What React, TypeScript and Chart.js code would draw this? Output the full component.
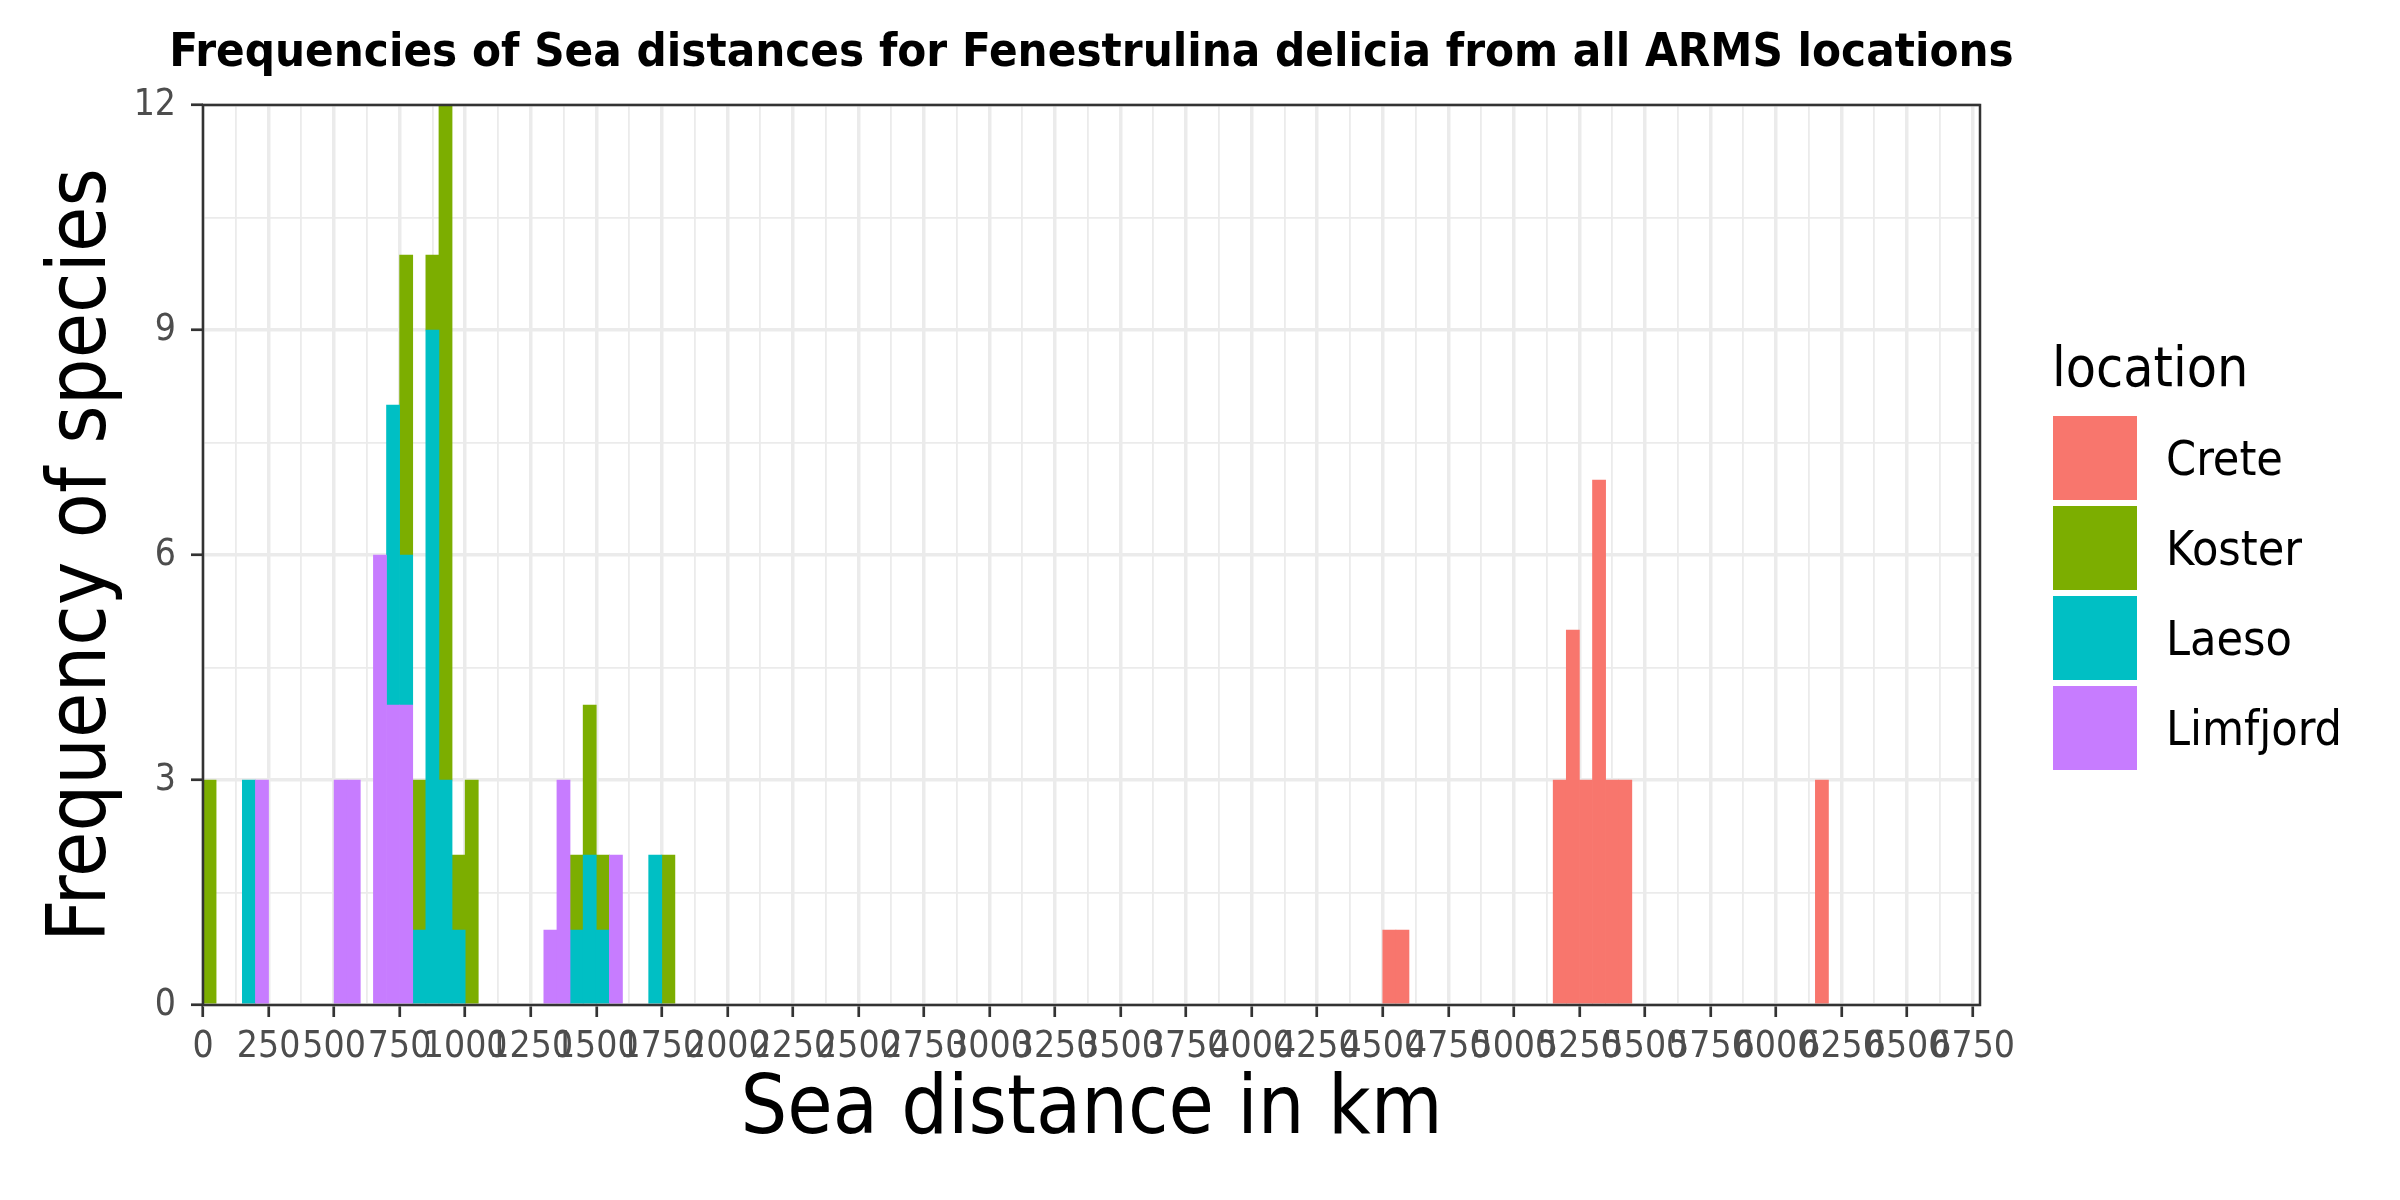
import React, { useEffect, useRef } from 'react';
import { Chart, registerables } from 'chart.js';

Chart.register(...registerables);

// ---- data (50 km bins, value = bin start in km) ----
const BIN_WIDTH = 50;
const locations = ['Crete', 'Koster', 'Laeso', 'Limfjord'];
const locationColors = ['#F8766D', '#7CAE00', '#00BFC4', '#C77CFF'];

const creteBins = [4500, 4550, 5150, 5200, 5250, 5300, 5350, 5400, 6150];
const creteCounts = [1, 1, 3, 5, 3, 7, 3, 3, 3];

const kosterBins = [0, 750, 800, 850, 900, 950, 1000, 1400, 1450, 1500, 1750];
const kosterCounts = [3, 4, 2, 1, 9, 1, 3, 1, 2, 1, 2];

const laesoBins = [150, 700, 750, 800, 850, 900, 950, 1400, 1450, 1500, 1700];
const laesoCounts = [3, 4, 2, 1, 9, 3, 1, 1, 2, 1, 2];

const limfjordBins = [200, 500, 550, 650, 700, 750, 1300, 1350, 1550];
const limfjordCounts = [3, 3, 3, 6, 4, 4, 1, 3, 2];

const xTickLabels = [
  '0', '250', '500', '750', '1000', '1250', '1500', '1750', '2000', '2250',
  '2500', '2750', '3000', '3250', '3500', '3750', '4000', '4250', '4500',
  '4750', '5000', '5250', '5500', '5750', '6000', '6250', '6500', '6750',
];
const yTickLabels = ['0', '3', '6', '9', '12'];

const X_MAX = 6778;
const Y_MAX = 12;

const TITLE = 'Frequencies of Sea distances for Fenestrulina delicia from all ARMS locations';
const X_TITLE = 'Sea distance in km';
const Y_TITLE = 'Frequency of species';
const LEGEND_TITLE = 'location';

const FONT = "'DejaVu Sans Condensed', 'Liberation Sans Narrow', serif";

// ---- helpers ----
const xMajor = xTickLabels.map(Number);
const yMajor = yTickLabels.map(Number);
const withMinor = (major: number[], limit: number) => {
  const out: number[] = [];
  for (let i = 0; i < major.length; i++) {
    out.push(major[i]);
    if (i < major.length - 1) out.push((major[i] + major[i + 1]) / 2);
  }
  const step = major[1] - major[0];
  const lastMinor = major[major.length - 1] + step / 2;
  if (lastMinor <= limit) out.push(lastMinor);
  return out;
};
const xAllTicks = withMinor(xMajor, X_MAX);
const yAllTicks = withMinor(yMajor, Y_MAX);

const toPoints = (bins: number[], counts: number[]) =>
  bins.map((b, i) => ({ x: b + BIN_WIDTH / 2, y: counts[i] }));

const seriesByName: Record<string, { x: number; y: number }[]> = {
  Crete: toPoints(creteBins, creteCounts),
  Koster: toPoints(kosterBins, kosterCounts),
  Laeso: toPoints(laesoBins, laesoCounts),
  Limfjord: toPoints(limfjordBins, limfjordCounts),
};

const GRID = '#EBEBEB';
const DARK = '#333333';
const isMajorX = (v: number) => xMajor.indexOf(v) !== -1;
const isMajorY = (v: number) => yMajor.indexOf(v) !== -1;

const decorPlugin = {
  id: 'ggDecor',
  afterDraw(chart: any) {
    const { ctx, chartArea } = chart;
    const { left, right, top, bottom } = chartArea;
    ctx.save();
    // panel border
    ctx.strokeStyle = DARK;
    ctx.lineWidth = 2.5;
    ctx.strokeRect(left, top, right - left, bottom - top);

    // title
    ctx.fillStyle = '#000000';
    ctx.font = `bold 47px ${FONT}`;
    ctx.textAlign = 'center';
    ctx.textBaseline = 'alphabetic';
    ctx.fillText(TITLE, (left + right) / 2, 66);

    // legend
    ctx.textAlign = 'left';
    ctx.font = `55px ${FONT}`;
    ctx.fillText(LEGEND_TITLE, 2052, 386);
    ctx.font = `48px ${FONT}`;
    locations.forEach((name, i) => {
      const ds = chart.data.datasets.find((d: any) => d.label === name);
      const y0 = 416 + i * 90;
      ctx.fillStyle = ds ? ds.backgroundColor : locationColors[i];
      ctx.fillRect(2053, y0, 84, 84);
      ctx.fillStyle = '#000000';
      ctx.fillText(name, 2166, y0 + 42 + 0.729 * 48 / 2);
    });
    ctx.restore();
  },
};

export default function App() {
  const ref = useRef<HTMLCanvasElement | null>(null);

  useEffect(() => {
    if (!ref.current) return;
    // stacking order: Limfjord bottom ... Crete top
    const stackOrder = ['Limfjord', 'Laeso', 'Koster', 'Crete'];
    const datasets = stackOrder.map((name) => ({
      label: name,
      data: seriesByName[name],
      backgroundColor: locationColors[locations.indexOf(name)],
      borderWidth: 0,
      barPercentage: 1,
      categoryPercentage: 1,
    }));

    const chart = new Chart(ref.current, {
      type: 'bar',
      data: { datasets },
      plugins: [decorPlugin],
      options: {
        responsive: false,
        animation: false,
        devicePixelRatio: 1,
        layout: { padding: { left: 0, top: 105, right: 420, bottom: 0 } },
        plugins: {
          legend: { display: false },
          title: { display: false },
          tooltip: { enabled: false },
        },
        scales: {
          x: {
            type: 'linear',
            min: 0,
            max: X_MAX,
            bounds: 'data',
            stacked: true,
            offset: false,
            afterBuildTicks: (s: any) => {
              s.ticks = xAllTicks.map((v) => ({ value: v }));
            },
            afterFit: (s: any) => {
              s.height = 195;
            },
            ticks: {
              autoSkip: false,
              maxRotation: 0,
              minRotation: 0,
              padding: 8,
              color: '#4D4D4D',
              font: { family: FONT, size: 37 },
              callback: (v: any) => {
                const i = xMajor.indexOf(Number(v));
                return i === -1 ? '' : xTickLabels[i];
              },
            },
            grid: {
              offset: false,
              color: GRID,
              lineWidth: (c: any) => (c.tick && isMajorX(c.tick.value) ? 3.5 : 1.8),
              tickColor: (c: any) => (c.tick && isMajorX(c.tick.value) ? DARK : 'rgba(0,0,0,0)'),
              tickLength: 12,
              tickWidth: 2.7,
            },
            border: { display: false },
            title: {
              display: true,
              text: X_TITLE,
              color: '#000000',
              font: { family: FONT, size: 82 },
              padding: { top: 0, bottom: 39 },
            },
          },
          y: {
            type: 'linear',
            min: 0,
            max: Y_MAX,
            bounds: 'data',
            stacked: true,
            afterBuildTicks: (s: any) => {
              s.ticks = yAllTicks.map((v) => ({ value: v }));
            },
            afterFit: (s: any) => {
              s.width = 203;
            },
            ticks: {
              autoSkip: false,
              padding: 15,
              color: '#4D4D4D',
              font: { family: FONT, size: 37 },
              callback: (v: any) => {
                const i = yMajor.indexOf(Number(v));
                return i === -1 ? '' : yTickLabels[i];
              },
            },
            grid: {
              color: GRID,
              lineWidth: (c: any) => (c.tick && isMajorY(c.tick.value) ? 3.5 : 1.8),
              tickColor: (c: any) => (c.tick && isMajorY(c.tick.value) ? DARK : 'rgba(0,0,0,0)'),
              tickLength: 12,
              tickWidth: 2.7,
            },
            border: { display: false },
            title: {
              display: true,
              text: Y_TITLE,
              color: '#000000',
              font: { family: FONT, size: 82 },
              padding: { top: 35, bottom: 0 },
            },
          },
        },
      } as any,
    });
    return () => chart.destroy();
  }, []);

  return (
    <canvas
      ref={ref}
      width={2400}
      height={1200}
      style={{ position: 'fixed', left: 0, top: 0, width: '2400px', height: '1200px', background: '#ffffff' }}
    />
  );
}
